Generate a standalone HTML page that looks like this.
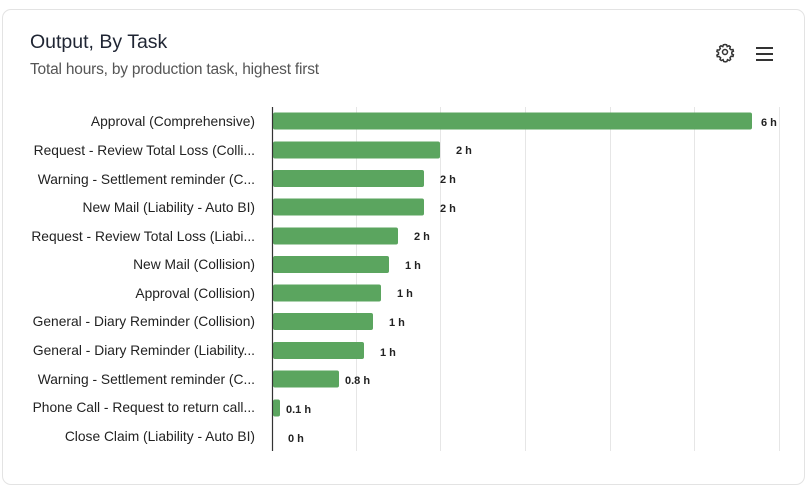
<!DOCTYPE html>
<html><head><style>
body{margin:0;width:812px;height:489px;background:#fff;font-family:"Liberation Sans",sans-serif;overflow:hidden}
.card{position:absolute;left:2px;top:9px;width:803px;height:476px;border:1px solid #e3e3e3;border-radius:9px;box-sizing:border-box}
.t{position:absolute;left:30px;top:31px;font-size:19.5px;color:#1f2533}
.s{position:absolute;left:30px;top:61px;font-size:15.5px;color:#555;letter-spacing:-0.2px}
</style></head><body>
<div class="card"></div>
<div class="t">Output, By Task</div>
<div class="s">Total hours, by production task, highest first</div>
<svg width="812" height="489" style="position:absolute;left:0;top:0">
<g stroke="#e6e6e6" stroke-width="1">
<line x1="356.5" y1="107" x2="356.5" y2="451"/><line x1="440.5" y1="107" x2="440.5" y2="451"/>
<line x1="525.5" y1="107" x2="525.5" y2="451"/><line x1="610.5" y1="107" x2="610.5" y2="451"/>
<line x1="694.5" y1="107" x2="694.5" y2="451"/><line x1="779.5" y1="107" x2="779.5" y2="451"/>
</g>
<g fill="none" stroke="#333" stroke-width="1.5">
<circle cx="725" cy="52" r="2.5"/><path d="M725 44.5l1.6 0.3 .6 1.8 1.8-.8 1.3 1 -.6 1.8 1.5 1.2 1.8-.2.4 1.6-1.6 .9v1.8l1.6.9-.4 1.6-1.8-.2-1.2 1.5.6 1.8-1.3 1-1.8-.8-.6 1.8-1.6.3-1.6-.3-.6-1.8-1.8.8-1.3-1 .6-1.8-1.5-1.2-1.8.2-.4-1.6 1.6-.9v-1.8l-1.6-.9.4-1.6 1.8.2 1.2-1.5-.6-1.8 1.3-1 1.8.8.6-1.8z"/>
</g>
<g stroke="#333" stroke-width="2"><line x1="756" y1="48" x2="773" y2="48"/><line x1="756" y1="54" x2="773" y2="54"/><line x1="756" y1="60" x2="773" y2="60"/></g>
<g fill="#5ba55f">
<rect x="273" y="112.5" width="479" height="17" rx="2"/>
<rect x="273" y="141.5" width="167" height="17" rx="2"/>
<rect x="273" y="170" width="151" height="17" rx="2"/>
<rect x="273" y="198.5" width="151" height="17" rx="2"/>
<rect x="273" y="227.5" width="125" height="17" rx="2"/>
<rect x="273" y="256" width="116" height="17" rx="2"/>
<rect x="273" y="284.5" width="108" height="17" rx="2"/>
<rect x="273" y="313" width="100" height="17" rx="2"/>
<rect x="273" y="342" width="91" height="17" rx="2"/>
<rect x="273" y="370.5" width="66" height="17" rx="2"/>
<rect x="273" y="399.5" width="7" height="17" rx="2"/>
</g>
<line x1="272.5" y1="107" x2="272.5" y2="451" stroke="#333" stroke-width="1.2"/>
<g font-size="13.8" fill="#222" text-anchor="end">
<text x="255" y="126">Approval (Comprehensive)</text>
<text x="255" y="155">Request - Review Total Loss (Colli...</text>
<text x="255" y="184">Warning - Settlement reminder (C...</text>
<text x="255" y="212">New Mail (Liability - Auto BI)</text>
<text x="255" y="241">Request - Review Total Loss (Liabi...</text>
<text x="255" y="269">New Mail (Collision)</text>
<text x="255" y="298">Approval (Collision)</text>
<text x="255" y="326">General - Diary Reminder (Collision)</text>
<text x="255" y="355">General - Diary Reminder (Liability...</text>
<text x="255" y="384">Warning - Settlement reminder (C...</text>
<text x="255" y="412">Phone Call - Request to return call...</text>
<text x="255" y="441">Close Claim (Liability - Auto BI)</text>
</g>
<g font-size="11" font-weight="bold" fill="#222">
<text x="761" y="126">6 h</text>
<text x="456" y="154">2 h</text>
<text x="440" y="183">2 h</text>
<text x="440" y="212">2 h</text>
<text x="414" y="240">2 h</text>
<text x="405" y="269">1 h</text>
<text x="397" y="297">1 h</text>
<text x="389" y="326">1 h</text>
<text x="380" y="356">1 h</text>
<text x="345" y="384">0.8 h</text>
<text x="286" y="413">0.1 h</text>
<text x="288" y="442">0 h</text>
</g>
</svg>
</body></html>
